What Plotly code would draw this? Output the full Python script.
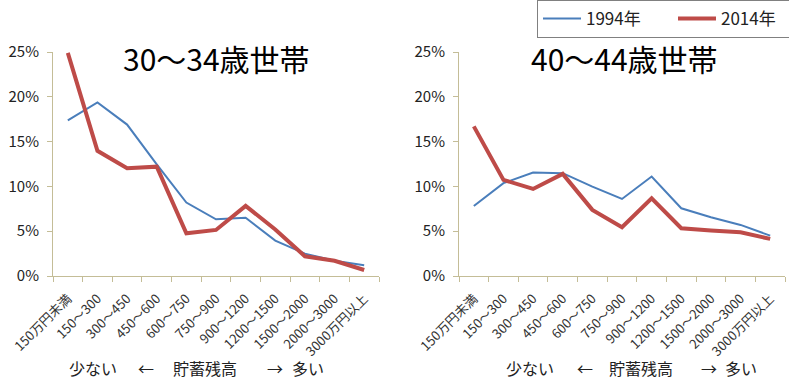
import plotly.graph_objects as go

categories = ["150万円未満", "150～300", "300～450", "450～600", "600～750", "750～900",
              "900～1200", "1200～1500", "1500～2000", "2000～3000", "3000万円以上"]
age30_1994 = [0.1736, 0.1937, 0.169, 0.1245, 0.082, 0.0633, 0.065, 0.0395, 0.025, 0.017, 0.012]
age30_2014 = [0.249, 0.1397, 0.1203, 0.122, 0.0477, 0.0514, 0.0782, 0.052, 0.022, 0.017, 0.0067]
age40_1994 = [0.0782, 0.1036, 0.1155, 0.1148, 0.0998, 0.086, 0.111, 0.0756, 0.0656, 0.057, 0.045]
age40_2014 = [0.167, 0.1073, 0.0972, 0.114, 0.0738, 0.0544, 0.0868, 0.0533, 0.0507, 0.0488, 0.0414]
series_names = ["1994年", "2014年"]
titles = ["30～34歳世帯", "40～44歳世帯"]
y_ticks = [0, 0.05, 0.10, 0.15, 0.20, 0.25]
caption_parts = ["少ない", "←", "貯蓄残高", "→", "多い"]

BLUE = "#4a7ebb"
RED = "#be4b48"
AXIS = "#c4bd97"
FONT = "Noto Sans CJK JP"
W, H = 789, 380

fig = go.Figure()
fig.add_trace(go.Scatter(x=categories, y=age30_1994, mode="lines", name=series_names[0],
                         line=dict(color=BLUE, width=2), xaxis="x", yaxis="y"))
fig.add_trace(go.Scatter(x=categories, y=age30_2014, mode="lines", name=series_names[1],
                         line=dict(color=RED, width=4), xaxis="x", yaxis="y"))
fig.add_trace(go.Scatter(x=categories, y=age40_1994, mode="lines", name=series_names[0],
                         line=dict(color=BLUE, width=2), xaxis="x2", yaxis="y2", showlegend=False))
fig.add_trace(go.Scatter(x=categories, y=age40_2014, mode="lines", name=series_names[1],
                         line=dict(color=RED, width=4), xaxis="x2", yaxis="y2", showlegend=False))

ydom = [(H - 276) / H, (H - 52) / H]

def xaxis_cfg(dom, anchor):
    return dict(domain=dom, anchor=anchor, type="category", range=[-0.5, 10.5],
                showline=True, linecolor=AXIS, linewidth=1, ticks="outside", ticklen=5,
                tickcolor=AXIS, tickson="boundaries", tickangle=-45, showgrid=False,
                zeroline=False, tickfont=dict(size=13, color="#333", family=FONT),
                ticklabelstandoff=9, automargin=False, fixedrange=True)

def yaxis_cfg(anchor):
    return dict(domain=ydom, anchor=anchor, range=[0, 0.25], tickvals=y_ticks,
                tickformat=".0%", showline=True, linecolor=AXIS, linewidth=1,
                ticks="outside", ticklen=5, tickcolor=AXIS, showgrid=False, zeroline=False,
                tickfont=dict(size=15, color="#222", family=FONT), ticklabelstandoff=5,
                automargin=False, fixedrange=True)

fig.update_layout(
    width=W, height=H,
    margin=dict(l=0, r=0, t=0, b=0, autoexpand=False),
    paper_bgcolor="white", plot_bgcolor="white",
    font=dict(family=FONT, color="#222"),
    xaxis=xaxis_cfg([53 / W, 379 / W], "y"),
    yaxis=yaxis_cfg("x"),
    xaxis2=xaxis_cfg([459 / W, 785 / W], "y2"),
    yaxis2=yaxis_cfg("x2"),
    legend=dict(orientation="h", x=537 / W, y=1, xanchor="left", yanchor="top",
                bordercolor="#808080", borderwidth=1, font=dict(size=17, family=FONT, color="#222"),
                bgcolor="white", entrywidth=82, itemwidth=38, tracegroupgap=0),
    showlegend=True,
)

centers = [216, 624]
for t, cx in zip(titles, centers):
    fig.add_annotation(text=t, x=cx / W, y=(H - 58) / H, xref="paper", yref="paper",
                       showarrow=False, font=dict(size=30, family=FONT, color="black"),
                       xanchor="center", yanchor="middle")

caption_x = [[92.5, 145.5, 205, 274.5, 307.5], [530, 584.5, 640.5, 708.5, 741]]
for xs in caption_x:
    for part, cx in zip(caption_parts, xs):
        fig.add_annotation(text=part, x=cx / W, y=(H - 368) / H,
                           xref="paper", yref="paper", showarrow=False,
                           font=dict(size=16, family=FONT, color="#222"),
                           xanchor="center", yanchor="middle")

fig.write_html("out.html", config={"displayModeBar": False},
               post_script="document.body.style.margin='0';")
